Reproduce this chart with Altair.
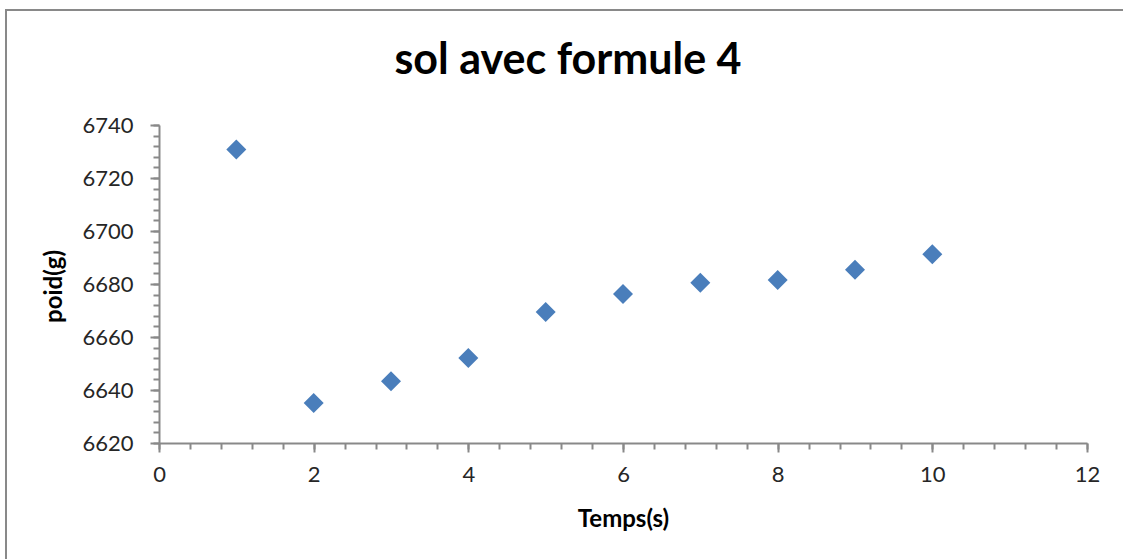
import altair as alt
import pandas as pd

temps = [1, 2, 3, 4, 5, 6, 7, 8, 9, 10]
poids = [6730.8, 6635.1, 6643.3, 6652.1, 6669.4, 6676.2, 6680.5, 6681.5, 6685.4, 6691.2]

x_major = [0, 2, 4, 6, 8, 10, 12]
x_minor = [round(i * 0.4, 1) for i in range(31)]
y_major = [6620, 6640, 6660, 6680, 6700, 6720, 6740]
y_minor = list(range(6620, 6741, 4))

df = pd.DataFrame({"Temps(s)": temps, "poid(g)": poids})

FONT = "Lato"
AXIS_COLOR = "#898989"
TEXT_COLOR = "#262626"

xscale = alt.Scale(domain=[0, 12], nice=False, zero=False)
yscale = alt.Scale(domain=[6620, 6740], nice=False, zero=False)

common_axis = dict(
    grid=False,
    domainColor=AXIS_COLOR,
    domainWidth=2,
    tickColor=AXIS_COLOR,
    tickWidth=2,
    labelFont=FONT,
    labelFontSize=22,
    labelColor=TEXT_COLOR,
    labelFlush=False,
    titleFont=FONT,
    titleFontSize=24,
    titleFontWeight="bold",
    titleColor="#000000",
    format="d",
)

points = alt.Chart(df).mark_point(
    shape="diamond", filled=True, size=400, color="#4A7EBB", opacity=1
).encode(
    x=alt.X("Temps(s):Q", scale=xscale,
            axis=alt.Axis(values=x_major, tickSize=9, labelPadding=12, orient="bottom",
                          titleX=464, titleY=83, titleBaseline="alphabetic",
                          titleAnchor="middle", **common_axis)),
    y=alt.Y("poid(g):Q", scale=yscale,
            axis=alt.Axis(values=y_major, tickSize=9, labelPadding=17, orient="left",
                          titleX=-98, titleY=161, titleAngle=-90, titleBaseline="alphabetic",
                          titleAnchor="middle", **common_axis)),
)

minor = alt.Chart(df).mark_point(opacity=0).encode(
    x=alt.X("Temps(s):Q", scale=xscale,
            axis=alt.Axis(values=x_minor, tickSize=6, labels=False, title=None, domain=False,
                          grid=False, orient="bottom", tickColor=AXIS_COLOR, tickWidth=2)),
    y=alt.Y("poid(g):Q", scale=yscale,
            axis=alt.Axis(values=y_minor, tickSize=6, labels=False, title=None, domain=False,
                          grid=False, orient="left", tickColor=AXIS_COLOR, tickWidth=2)),
)

one = pd.DataFrame({"k": [0]})
border_left = alt.Chart(one).mark_rule(color=AXIS_COLOR, strokeWidth=2).encode(
    x=alt.value(-153), y=alt.value(-115), y2=alt.value(440)
)
border_top = alt.Chart(one).mark_rule(color=AXIS_COLOR, strokeWidth=2).encode(
    x=alt.value(-154), x2=alt.value(970), y=alt.value(-115)
)

chart = alt.layer(minor, points, border_left, border_top).resolve_axis(
    x="independent", y="independent"
).properties(
    width=928,
    height=318,
    background="white",
    padding={"left": 159, "top": 125, "right": 36, "bottom": 116},
    autosize=alt.AutoSizeParams(type="none"),
    title=alt.TitleParams(
        "sol avec formule 4", font=FONT, fontSize=43, fontWeight="bold",
        color="#000000", anchor="middle", dx=-55, dy=108, baseline="alphabetic", offset=0,
    ),
).configure_view(stroke="transparent", strokeWidth=0)

chart.save("out.html", embed_options={"renderer": "svg", "actions": False})
